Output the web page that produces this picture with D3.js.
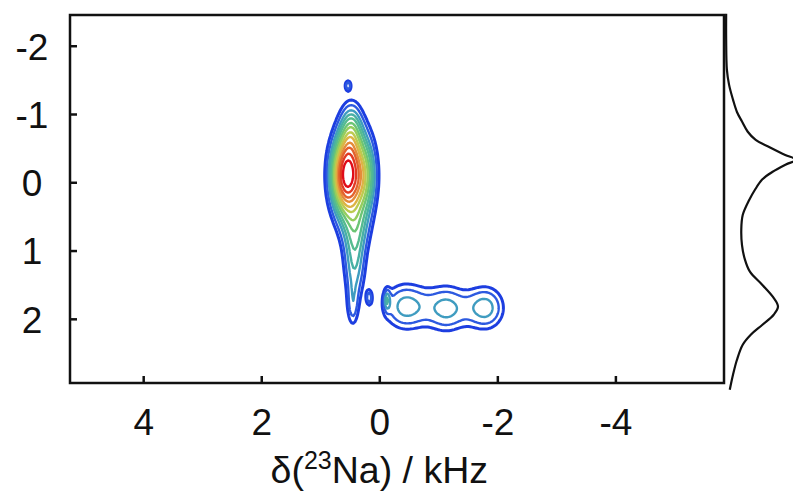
<!DOCTYPE html>
<html>
<head>
<meta charset="utf-8">
<script src="https://cdn.jsdelivr.net/npm/d3@7"></script>
<style>
  body { margin: 0; background: #fff; }
  svg { display: block; }
  text { font-family: "Liberation Sans", Arial, Helvetica, sans-serif; fill: #111; }
</style>
</head>
<body>
<svg id="chart" width="793" height="499"></svg>
<script>
// Axis ranges (kHz horizontally, isotropic dimension vertically; both reversed)
const xDomain = [5.24, -5.84];
const yDomain = [-2.45, 2.94];
const xTicks = [4, 2, 0, -2, -4];
const yTicks = [-2, -1, 0, 1, 2];

// Lineshape components: centre (x, y), widths, amplitude relative to the main maximum
// site 1: core, right shoulder, upper part, tail, lower tail, bottom end, isolated top spot
// site 2: three overlapping lobes; plus two small spots at the left end of site 2
const compX  = [0.56, 0.22, 0.47, 0.40, 0.42, 0.45, 0.53, -0.45, -1.15, -1.80, 0.17, -0.13];
const compY  = [-0.10, -0.10, -0.80, 0.70, 1.25, 1.85, -1.42, 1.82, 1.85, 1.84, 1.69, 1.72];
const compSX = [0.19, 0.15, 0.14, 0.17, 0.14, 0.08, 0.04, 0.30, 0.25, 0.25, 0.04, 0.04];
const compSY = [0.43, 0.45, 0.30, 0.30, 0.35, 0.25, 0.06, 0.27, 0.27, 0.25, 0.09, 0.12];
const compA  = [1.00, 0.40, 0.30, 0.25, 0.30, 0.20, 0.25, 0.33, 0.30, 0.33, 0.22, 0.20];

// Contour levels (fraction of the maximum) and their colours, outermost first
const levels = [0.15, 0.21, 0.28, 0.34, 0.40, 0.47, 0.53, 0.60, 0.66, 0.73, 0.79, 0.86, 0.93];
const levelColors = ["#1d3ee0", "#2d5ae0", "#3f9cc0", "#48b0a4", "#55bb90", "#6cc575",
                     "#95cd5e", "#bccb4f", "#dcb445", "#e58c3a", "#e3632d", "#e23a22", "#e00c18"];

// Projection onto the vertical axis (position, relative intensity)
const projY = [-2.47, -2.09, -1.65, -1.43, -1.21, -1.03, -0.89, -0.74, -0.62, -0.51, -0.40,
               -0.33, -0.26, -0.15, -0.04, 0.11, 0.26, 0.48, 0.70, 0.92, 1.13, 1.31, 1.50,
               1.68, 1.82, 1.94, 2.09, 2.23, 2.38, 2.60, 2.82, 3.04];
const projI = [0.03, 0.03, 0.04, 0.07, 0.125, 0.18, 0.25, 0.33, 0.44, 0.64, 0.85,
               1.0, 0.86, 0.67, 0.53, 0.43, 0.35, 0.26, 0.24, 0.25, 0.29, 0.36, 0.53,
               0.68, 0.75, 0.69, 0.53, 0.375, 0.26, 0.18, 0.125, 0.08];

const svg = d3.select("#chart");
const M = { left: 70, right: 724, top: 15, bottom: 383 };

const x = d3.scaleLinear().domain(xDomain).range([M.left, M.right]);
const y = d3.scaleLinear().domain(yDomain).range([M.top, M.bottom]);
const p = d3.scaleLinear().domain([0, 1]).range([724, 796]);

// Sample the 2D lineshape on a grid
const dx = 0.03, dy = 0.015;
const nx = Math.ceil((xDomain[0] - xDomain[1]) / dx) + 1;
const ny = Math.ceil((yDomain[1] - yDomain[0]) / dy) + 1;
const grid = new Float64Array(nx * ny);
for (let j = 0; j < ny; j++) {
  const yy = yDomain[0] + j * dy;
  for (let i = 0; i < nx; i++) {
    const xx = xDomain[0] - i * dx;
    let v = 0;
    for (let k = 0; k < compX.length; k++) {
      const u = (xx - compX[k]) / compSX[k];
      const w = (yy - compY[k]) / compSY[k];
      v += compA[k] * Math.exp(-0.5 * (u * u + w * w));
    }
    grid[j * nx + i] = v;
  }
}
const vmax = d3.max(grid);
for (let n = 0; n < grid.length; n++) grid[n] /= vmax;

const contours = d3.contours().size([nx, ny]).thresholds(levels)(grid);
const toScreen = d3.geoTransform({
  point(gx, gy) {
    this.stream.point(x(xDomain[0] - (gx - 0.5) * dx), y(yDomain[0] + (gy - 0.5) * dy));
  }
});
const path = d3.geoPath(toScreen);

svg.append("clipPath").attr("id", "plotClip")
  .append("rect")
  .attr("x", M.left).attr("y", M.top)
  .attr("width", M.right - M.left).attr("height", M.bottom - M.top);

svg.append("g").attr("clip-path", "url(#plotClip)")
  .selectAll("path")
  .data(contours)
  .join("path")
  .attr("d", path)
  .attr("fill", "none")
  .attr("stroke", (d, i) => levelColors[i])
  .attr("stroke-width", (d, i) => i === 0 ? 3 : 2.4)
  .attr("stroke-linejoin", "round");

// Frame
svg.append("rect")
  .attr("x", M.left).attr("y", M.top)
  .attr("width", M.right - M.left).attr("height", M.bottom - M.top)
  .attr("fill", "none").attr("stroke", "#111").attr("stroke-width", 2.5);

// Bottom axis (inward ticks)
const xAxis = svg.append("g").attr("transform", `translate(0,${M.bottom})`)
  .call(d3.axisBottom(x).tickValues(xTicks).tickSize(-7).tickPadding(26)
        .tickFormat(d => String(d).replace("\u2212", "-")));
xAxis.select(".domain").remove();
xAxis.selectAll("line").attr("stroke", "#111").attr("stroke-width", 2.5);
xAxis.selectAll("text").attr("font-size", 37).attr("fill", "#111")
  .attr("font-family", "Liberation Sans, Arial, sans-serif")
  .attr("dy", "0.71em");

// Left axis (inward ticks)
const yAxis = svg.append("g").attr("transform", `translate(${M.left},0)`)
  .call(d3.axisLeft(y).tickValues(yTicks).tickSize(-7).tickPadding(0)
        .tickFormat(d => String(d).replace("\u2212", "-")));
yAxis.select(".domain").remove();
yAxis.selectAll("line").attr("stroke", "#111").attr("stroke-width", 2.5);
yAxis.selectAll("text").attr("font-size", 37).attr("fill", "#111")
  .attr("font-family", "Liberation Sans, Arial, sans-serif")
  .attr("text-anchor", "middle").attr("x", 32 - M.left).attr("dy", "0.36em");

// Axis title
const title = svg.append("text")
  .attr("x", x(0)).attr("y", 483)
  .attr("text-anchor", "middle").attr("font-size", 37.5);
title.append("tspan").text("\u03b4(");
title.append("tspan").attr("font-size", 25).attr("dy", -14).text("23");
title.append("tspan").attr("dy", 14).text("Na) / kHz");

// Projection trace
const line = d3.line()
  .x((d, i) => p(projI[i]))
  .y(d => y(d))
  .curve(d3.curveCatmullRom.alpha(0.5));
svg.append("path")
  .attr("d", line(projY))
  .attr("fill", "none").attr("stroke", "#111").attr("stroke-width", 2.2);
</script>
</body>
</html>
